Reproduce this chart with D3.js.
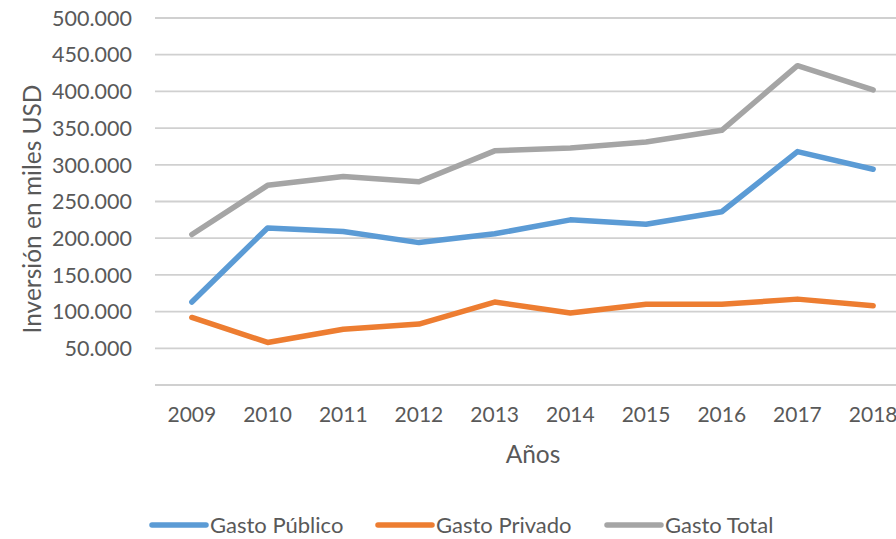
<!DOCTYPE html>
<html>
<head>
<meta charset="utf-8">
<script src="https://cdn.jsdelivr.net/npm/d3@7"></script>
<style>
  body { margin: 0; background: #fff; }
  svg text { font-family: Lato, "Open Sans", sans-serif; fill: #595959; }
</style>
</head>
<body>
<svg id="chart" width="896" height="539"></svg>
<script>
// datos
const years = ["2009", "2010", "2011", "2012", "2013", "2014", "2015", "2016", "2017", "2018"];
const gastoPublico = [113000, 214000, 209000, 194000, 206000, 225000, 219000, 236000, 318000, 294000];
const gastoPrivado = [92000, 58000, 76000, 83000, 113000, 98000, 110000, 110000, 117000, 108000];
const gastoTotal = [205000, 272000, 284000, 277000, 319000, 323000, 331000, 347000, 435000, 402000];
const yTicks = [0, 50000, 100000, 150000, 200000, 250000, 300000, 350000, 400000, 450000, 500000];

const series = [
  { name: "Gasto Público", values: gastoPublico, color: "#5b9bd5" },
  { name: "Gasto Privado", values: gastoPrivado, color: "#ed7d31" },
  { name: "Gasto Total", values: gastoTotal, color: "#a5a5a5" }
];

const svg = d3.select("#chart");

const x = d3.scalePoint()
  .domain(years)
  .range([154, 911])
  .padding(0.5);

const y = d3.scaleLinear()
  .domain([0, 500000])
  .range([385, 18]);

const fmt = v => d3.format(",")(v).replace(/,/g, ".");

// lineas de la grilla
svg.append("g")
  .selectAll("line")
  .data(yTicks)
  .enter()
  .append("line")
  .attr("x1", 155)
  .attr("x2", 896)
  .attr("y1", d => y(d))
  .attr("y2", d => y(d))
  .attr("stroke", "#d0d0d0")
  .attr("stroke-width", 1.8);

// etiquetas del eje y (sin el cero)
svg.append("g")
  .selectAll("text")
  .data(yTicks.filter(d => d > 0))
  .enter()
  .append("text")
  .attr("x", 132)
  .attr("y", d => y(d))
  .attr("dy", "0.36em")
  .attr("text-anchor", "end")
  .attr("font-size", 21.5)
  .text(d => fmt(d));

// etiquetas del eje x
svg.append("g")
  .selectAll("text")
  .data(years)
  .enter()
  .append("text")
  .attr("x", d => x(d))
  .attr("y", 422)
  .attr("text-anchor", "middle")
  .attr("font-size", 21)
  .text(d => d);

// titulos de ejes
svg.append("text")
  .attr("transform", "translate(41,209) rotate(-90)")
  .attr("text-anchor", "middle")
  .attr("font-size", 24.5)
  .text("Inversión en miles USD");

svg.append("text")
  .attr("x", 533)
  .attr("y", 463)
  .attr("text-anchor", "middle")
  .attr("font-size", 24.5)
  .text("Años");

// lineas de las series
const line = d3.line()
  .x((d, i) => x(years[i]))
  .y(d => y(d));

svg.append("g")
  .selectAll("path")
  .data(series)
  .enter()
  .append("path")
  .attr("d", d => line(d.values))
  .attr("fill", "none")
  .attr("stroke", d => d.color)
  .attr("stroke-width", 5.5)
  .attr("stroke-linejoin", "round")
  .attr("stroke-linecap", "round");

// leyenda
const legendX = [152, 378, 607];
const legend = svg.append("g")
  .selectAll("g")
  .data(series)
  .enter()
  .append("g")
  .attr("transform", (d, i) => `translate(${legendX[i]},525)`);

legend.append("line")
  .attr("x1", 0)
  .attr("x2", 54)
  .attr("stroke", d => d.color)
  .attr("stroke-width", 5.5)
  .attr("stroke-linecap", "round");

legend.append("text")
  .attr("x", 58)
  .attr("dy", "0.35em")
  .attr("font-size", 22)
  .text(d => d.name);
</script>
</body>
</html>
